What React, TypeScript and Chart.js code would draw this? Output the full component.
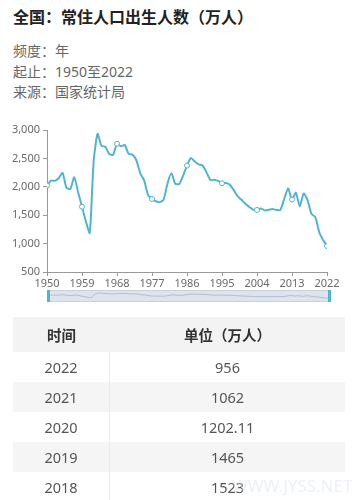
import React, { useEffect, useRef } from "react";
import { Chart, registerables } from "chart.js";
Chart.register(...registerables);

const years: number[] = [];
for (let y = 1950; y <= 2022; y++) years.push(y);
const births: number[] = [
  2023, 2107, 2105, 2151, 2245, 1984, 1962, 2169, 1905, 1650,
  1389, 1187, 2451, 2934, 2721, 2704, 2577, 2563, 2757, 2715,
  2736, 2578, 2566, 2463, 2235, 2109, 1853, 1786, 1745, 1727,
  1776, 2064, 2237, 2052, 2050, 2196, 2374, 2508, 2445, 2396,
  2374, 2258, 2119, 2126, 2104, 2063, 2067, 2038, 1942, 1834,
  1771, 1702, 1647, 1599, 1593, 1617, 1585, 1595, 1608, 1591,
  1592, 1785, 1973, 1776, 1897, 1655, 1883, 1765, 1523, 1465,
  1202, 1062, 956,
];
const xTicks: number[] = [1950, 1959, 1968, 1977, 1986, 1995, 2004, 2013, 2022];
const yTicks: number[] = [500, 1000, 1500, 2000, 2500, 3000];
const tableYears: string[] = ["2022", "2021", "2020", "2019", "2018"];
const tableValues: string[] = ["956", "1062", "1202.11", "1465", "1523"];

const FONT = "'Noto Sans', 'Noto Sans CJK SC', sans-serif";
const LINE = "#52b4d2";

export default function App() {
  const ref = useRef<HTMLCanvasElement>(null);
  const miniRef = useRef<HTMLCanvasElement>(null);

  useEffect(() => {
    document.body.style.margin = "0";
    const pts = years.map((y, i) => ({ x: y, y: births[i] }));
    const chart = new Chart(ref.current!, {
      type: "line",
      data: {
        datasets: [
          {
            data: pts,
            borderColor: LINE,
            borderWidth: 2,
            tension: 0.2,
            pointRadius: (ctx: any) => (xTicks.includes(years[ctx.dataIndex]) ? 2.5 : 0),
            pointBackgroundColor: "#fff",
            pointBorderColor: LINE,
            pointBorderWidth: 1,
          },
        ],
      },
      options: {
        animation: false,
        responsive: false,
        maintainAspectRatio: false,
        layout: { padding: { top: 20, right: 31, left: 0, bottom: 0 } },
        plugins: { legend: { display: false }, tooltip: { enabled: false } },
        scales: {
          x: {
            type: "linear",
            min: 1950,
            max: 2022,
            afterBuildTicks: (s: any) => {
              s.ticks = xTicks.map((v) => ({ value: v }));
            },
            afterFit: (s: any) => {
              s.height = 23;
            },
            grid: { drawOnChartArea: false, tickLength: 4, color: "#999" },
            border: { color: "#999" },
            ticks: {
              color: "#6a6a6a",
              font: { family: FONT, size: 11 },
              padding: 1,
              maxRotation: 0,
              callback: (v: any) => String(v),
            },
          },
          y: {
            min: 500,
            max: 3000,
            afterBuildTicks: (s: any) => {
              s.ticks = yTicks.map((v) => ({ value: v }));
            },
            afterFit: (s: any) => {
              s.width = 47;
            },
            grid: { drawOnChartArea: false, tickLength: 4, color: "#999" },
            border: { color: "#999" },
            ticks: {
              color: "#6a6a6a",
              font: { family: FONT, size: 11 },
              padding: 3,
              callback: (v: any) => Number(v).toLocaleString("en-US"),
            },
          },
        },
      },
    } as any);

    const mini = new Chart(miniRef.current!, {
      type: "line",
      data: {
        datasets: [
          {
            data: pts,
            borderColor: "rgba(150,165,185,0.6)",
            borderWidth: 1,
            pointRadius: 0,
            tension: 0.3,
            fill: false,
          },
        ],
      },
      options: {
        animation: false,
        responsive: false,
        maintainAspectRatio: false,
        layout: { padding: 0 },
        plugins: { legend: { display: false }, tooltip: { enabled: false } },
        scales: {
          x: { type: "linear", min: 1950, max: 2022, display: false },
          y: { min: 0, max: 3600, display: false },
        },
      },
    } as any);

    return () => {
      chart.destroy();
      mini.destroy();
    };
  }, []);

  const rowBg = (i: number) => (i % 2 === 0 ? "#ffffff" : "#f5f5f5");

  return (
    <div style={{ position: "relative", width: 358, height: 500, fontFamily: FONT, background: "#fff", overflow: "hidden" }}>
      <div style={{ position: "absolute", left: 13, top: 6, fontSize: 16, fontWeight: 700, color: "#222", lineHeight: "22px" }}>
        全国：常住人口出生人数（万人）
      </div>
      <div style={{ position: "absolute", left: 13, top: 41, fontSize: 14, color: "#666", lineHeight: "20.5px" }}>
        <div>频度：年</div>
        <div>起止：1950至2022</div>
        <div>来源：国家统计局</div>
      </div>
      <canvas ref={ref} width={358} height={185} style={{ position: "absolute", left: 0, top: 110, width: 358, height: 185 }} />
      <div style={{ position: "absolute", left: 47, top: 290, width: 284, height: 12, background: "#dde4ec", boxSizing: "border-box", border: "1px solid #c9d2dc" }}>
        <canvas ref={miniRef} width={282} height={10} style={{ position: "absolute", left: 0, top: 0, width: 282, height: 10 }} />
      </div>
      <div style={{ position: "absolute", left: 47, top: 290, width: 3, height: 12, background: LINE }} />
      <div style={{ position: "absolute", left: 328, top: 290, width: 3, height: 12, background: LINE }} />
      <div style={{ position: "absolute", left: 13, top: 317, width: 332 }}>
        <div style={{ display: "flex", height: 35, background: "#f3f3f3", fontWeight: 700, fontSize: 14.5, color: "#333", alignItems: "center" }}>
          <div style={{ width: 97, textAlign: "center" }}>时间</div>
          <div style={{ flex: 1, textAlign: "center" }}>单位（万人）</div>
        </div>
        {tableYears.map((y, i) => (
          <div key={y} style={{ display: "flex", height: 30, background: rowBg(i), fontSize: 14.5, color: "#555", alignItems: "stretch" }}>
            <div style={{ width: 96, textAlign: "center", lineHeight: "30px", borderRight: "1px solid #ececec" }}>{y}</div>
            <div style={{ flex: 1, textAlign: "center", lineHeight: "30px" }}>{tableValues[i]}</div>
          </div>
        ))}
      </div>
      <div style={{ position: "absolute", left: 232, top: 474, fontSize: 17, color: "rgba(220,228,236,0.5)" }}>
        WWW.JYSS.NET
      </div>
    </div>
  );
}
